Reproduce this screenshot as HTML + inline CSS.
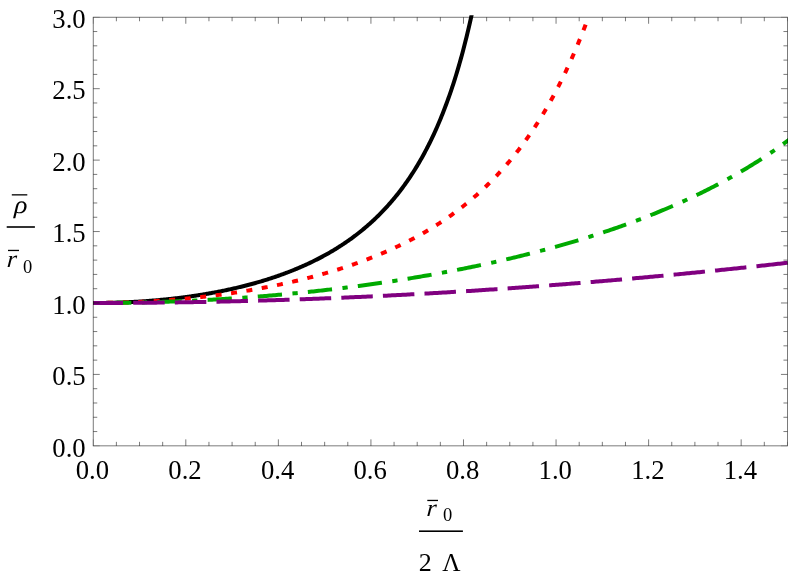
<!DOCTYPE html>
<html><head><meta charset="utf-8"><title>plot</title>
<style>
html,body{margin:0;padding:0;background:#fff;}
svg{display:block;will-change:transform;}
text{font-family:"Liberation Serif",serif;font-size:26.7px;fill:#000;}
.it{font-style:italic;}
</style></head><body>
<svg width="789" height="574" viewBox="0 0 789 574">
<rect width="789" height="574" fill="#fff"/>
<defs><clipPath id="c"><rect x="91.3" y="15.3" width="696.7" height="432"/></clipPath></defs>
<g clip-path="url(#c)" fill="none" stroke-width="4" stroke-linejoin="round">
<path d="M93.25 302.98 L94.20 302.98 L95.16 302.98 L96.11 302.98 L97.07 302.97 L98.02 302.97 L98.98 302.96 L99.93 302.95 L100.89 302.94 L101.84 302.93 L102.80 302.92 L103.75 302.91 L104.70 302.90 L105.66 302.88 L106.61 302.86 L107.57 302.85 L108.52 302.83 L109.48 302.81 L110.43 302.79 L111.39 302.76 L112.34 302.74 L113.30 302.71 L114.25 302.69 L115.20 302.66 L116.16 302.63 L117.11 302.60 L118.07 302.57 L119.02 302.54 L119.98 302.51 L120.93 302.47 L121.89 302.43 L122.84 302.40 L123.79 302.36 L124.75 302.32 L125.70 302.28 L126.66 302.23 L127.61 302.19 L128.57 302.15 L129.52 302.10 L130.48 302.05 L131.43 302.00 L132.39 301.95 L133.34 301.90 L134.29 301.85 L135.25 301.80 L136.20 301.74 L137.16 301.69 L138.11 301.63 L139.07 301.57 L140.02 301.51 L140.98 301.45 L141.93 301.38 L142.89 301.32 L143.84 301.26 L144.79 301.19 L145.75 301.12 L146.70 301.05 L147.66 300.98 L148.61 300.91 L149.57 300.84 L150.52 300.76 L151.48 300.69 L152.43 300.61 L153.39 300.53 L154.34 300.45 L155.29 300.37 L156.25 300.29 L157.20 300.20 L158.16 300.12 L159.11 300.03 L160.07 299.94 L161.02 299.85 L161.98 299.76 L162.93 299.67 L163.88 299.58 L164.84 299.48 L165.79 299.38 L166.75 299.29 L167.70 299.19 L168.66 299.09 L169.61 298.98 L170.57 298.88 L171.52 298.78 L172.48 298.67 L173.43 298.56 L174.38 298.45 L175.34 298.34 L176.29 298.23 L177.25 298.12 L178.20 298.00 L179.16 297.88 L180.11 297.77 L181.07 297.65 L182.02 297.53 L182.98 297.40 L183.93 297.28 L184.88 297.15 L185.84 297.03 L186.79 296.90 L187.75 296.77 L188.70 296.64 L189.66 296.50 L190.61 296.37 L191.57 296.23 L192.52 296.09 L193.48 295.95 L194.43 295.81 L195.38 295.67 L196.34 295.52 L197.29 295.38 L198.25 295.23 L199.20 295.08 L200.16 294.93 L201.11 294.78 L202.07 294.62 L203.02 294.47 L203.97 294.31 L204.93 294.15 L205.88 293.99 L206.84 293.83 L207.79 293.66 L208.75 293.49 L209.70 293.33 L210.66 293.16 L211.61 292.98 L212.57 292.81 L213.52 292.64 L214.47 292.46 L215.43 292.28 L216.38 292.10 L217.34 291.92 L218.29 291.73 L219.25 291.55 L220.20 291.36 L221.16 291.17 L222.11 290.98 L223.07 290.78 L224.02 290.59 L224.97 290.39 L225.93 290.19 L226.88 289.99 L227.84 289.78 L228.79 289.58 L229.75 289.37 L230.70 289.16 L231.66 288.95 L232.61 288.74 L233.57 288.52 L234.52 288.30 L235.47 288.08 L236.43 287.86 L237.38 287.64 L238.34 287.41 L239.29 287.18 L240.25 286.95 L241.20 286.72 L242.16 286.49 L243.11 286.25 L244.06 286.01 L245.02 285.77 L245.97 285.52 L246.93 285.28 L247.88 285.03 L248.84 284.78 L249.79 284.53 L250.75 284.27 L251.70 284.01 L252.66 283.75 L253.61 283.49 L254.56 283.23 L255.52 282.96 L256.47 282.69 L257.43 282.42 L258.38 282.14 L259.34 281.86 L260.29 281.58 L261.25 281.30 L262.20 281.02 L263.16 280.73 L264.11 280.44 L265.06 280.14 L266.02 279.85 L266.97 279.55 L267.93 279.25 L268.88 278.95 L269.84 278.64 L270.79 278.33 L271.75 278.02 L272.70 277.70 L273.66 277.38 L274.61 277.06 L275.56 276.74 L276.52 276.41 L277.47 276.08 L278.43 275.75 L279.38 275.41 L280.34 275.08 L281.29 274.73 L282.25 274.39 L283.20 274.04 L284.15 273.69 L285.11 273.33 L286.06 272.98 L287.02 272.62 L287.97 272.25 L288.93 271.88 L289.88 271.51 L290.84 271.14 L291.79 270.76 L292.75 270.38 L293.70 269.99 L294.65 269.60 L295.61 269.21 L296.56 268.82 L297.52 268.42 L298.47 268.01 L299.43 267.61 L300.38 267.20 L301.34 266.78 L302.29 266.36 L303.25 265.94 L304.20 265.52 L305.15 265.09 L306.11 264.65 L307.06 264.21 L308.02 263.77 L308.97 263.33 L309.93 262.88 L310.88 262.42 L311.84 261.96 L312.79 261.50 L313.75 261.03 L314.70 260.56 L315.65 260.08 L316.61 259.60 L317.56 259.12 L318.52 258.62 L319.47 258.13 L320.43 257.63 L321.38 257.13 L322.34 256.62 L323.29 256.10 L324.25 255.58 L325.20 255.06 L326.15 254.53 L327.11 253.99 L328.06 253.46 L329.02 252.91 L329.97 252.36 L330.93 251.80 L331.88 251.24 L332.84 250.68 L333.79 250.10 L334.74 249.53 L335.70 248.94 L336.65 248.35 L337.61 247.76 L338.56 247.16 L339.52 246.55 L340.47 245.94 L341.43 245.32 L342.38 244.69 L343.34 244.06 L344.29 243.42 L345.24 242.78 L346.20 242.12 L347.15 241.47 L348.11 240.80 L349.06 240.13 L350.02 239.45 L350.97 238.76 L351.93 238.07 L352.88 237.37 L353.84 236.66 L354.79 235.95 L355.74 235.22 L356.70 234.49 L357.65 233.76 L358.61 233.01 L359.56 232.26 L360.52 231.49 L361.47 230.72 L362.43 229.95 L363.38 229.16 L364.34 228.36 L365.29 227.56 L366.24 226.75 L367.20 225.92 L368.15 225.09 L369.11 224.25 L370.06 223.40 L371.02 222.54 L371.97 221.67 L372.93 220.79 L373.88 219.91 L374.83 219.01 L375.79 218.10 L376.74 217.18 L377.70 216.25 L378.65 215.31 L379.61 214.36 L380.56 213.39 L381.52 212.42 L382.47 211.43 L383.43 210.43 L384.38 209.43 L385.33 208.40 L386.29 207.37 L387.24 206.32 L388.20 205.27 L389.15 204.19 L390.11 203.11 L391.06 202.01 L392.02 200.90 L392.97 199.78 L393.93 198.64 L394.88 197.48 L395.83 196.31 L396.79 195.13 L397.74 193.93 L398.70 192.72 L399.65 191.49 L400.61 190.25 L401.56 188.99 L402.52 187.71 L403.47 186.41 L404.43 185.10 L405.38 183.77 L406.33 182.43 L407.29 181.06 L408.24 179.68 L409.20 178.28 L410.15 176.86 L411.11 175.42 L412.06 173.96 L413.02 172.48 L413.97 170.97 L414.92 169.45 L415.88 167.91 L416.83 166.34 L417.79 164.75 L418.74 163.14 L419.70 161.51 L420.65 159.85 L421.61 158.17 L422.56 156.46 L423.52 154.72 L424.47 152.97 L425.42 151.18 L426.38 149.37 L427.33 147.53 L428.29 145.66 L429.24 143.76 L430.20 141.83 L431.15 139.87 L432.11 137.88 L433.06 135.86 L434.02 133.81 L434.97 131.72 L435.92 129.60 L436.88 127.44 L437.83 125.25 L438.79 123.02 L439.74 120.76 L440.70 118.46 L441.65 116.11 L442.61 113.73 L443.56 111.30 L444.52 108.84 L445.47 106.32 L446.42 103.77 L447.38 101.17 L448.33 98.52 L449.29 95.82 L450.24 93.08 L451.20 90.28 L452.15 87.43 L453.11 84.52 L454.06 81.57 L455.01 78.55 L455.97 75.48 L456.92 72.34 L457.88 69.14 L458.83 65.88 L459.79 62.56 L460.74 59.16 L461.70 55.70 L462.65 52.17 L463.61 48.56 L464.56 44.87 L465.51 41.11 L466.47 37.26 L467.42 33.33 L468.38 29.32 L469.33 25.21 L470.29 21.01 L471.24 16.72 L472.20 12.32 L473.15 7.83 L474.11 3.23 L475.06 -1.48" stroke="#000"/>
<path d="M93.25 302.98 L94.48 302.98 L95.72 302.98 L96.95 302.98 L98.19 302.97 L99.42 302.96 L100.65 302.96 L101.89 302.95 L103.12 302.93 L104.36 302.92 L105.59 302.91 L106.82 302.89 L108.06 302.87 L109.29 302.85 L110.53 302.83 L111.76 302.81 L112.99 302.79 L114.23 302.76 L115.46 302.74 L116.69 302.71 L117.93 302.68 L119.16 302.65 L120.40 302.62 L121.63 302.58 L122.86 302.55 L124.10 302.51 L125.33 302.47 L126.57 302.43 L127.80 302.39 L129.03 302.34 L130.27 302.30 L131.50 302.25 L132.74 302.20 L133.97 302.15 L135.20 302.10 L136.44 302.05 L137.67 302.00 L138.91 301.94 L140.14 301.88 L141.37 301.82 L142.61 301.76 L143.84 301.70 L145.08 301.64 L146.31 301.57 L147.54 301.51 L148.78 301.44 L150.01 301.37 L151.25 301.30 L152.48 301.22 L153.71 301.15 L154.95 301.07 L156.18 301.00 L157.41 300.92 L158.65 300.84 L159.88 300.75 L161.12 300.67 L162.35 300.58 L163.58 300.50 L164.82 300.41 L166.05 300.32 L167.29 300.23 L168.52 300.13 L169.75 300.04 L170.99 299.94 L172.22 299.84 L173.46 299.74 L174.69 299.64 L175.92 299.54 L177.16 299.43 L178.39 299.33 L179.63 299.22 L180.86 299.11 L182.09 299.00 L183.33 298.89 L184.56 298.77 L185.80 298.66 L187.03 298.54 L188.26 298.42 L189.50 298.30 L190.73 298.17 L191.97 298.05 L193.20 297.92 L194.43 297.80 L195.67 297.67 L196.90 297.54 L198.13 297.40 L199.37 297.27 L200.60 297.13 L201.84 296.99 L203.07 296.85 L204.30 296.71 L205.54 296.57 L206.77 296.43 L208.01 296.28 L209.24 296.13 L210.47 295.98 L211.71 295.83 L212.94 295.68 L214.18 295.52 L215.41 295.36 L216.64 295.21 L217.88 295.04 L219.11 294.88 L220.35 294.72 L221.58 294.55 L222.81 294.39 L224.05 294.22 L225.28 294.04 L226.52 293.87 L227.75 293.70 L228.98 293.52 L230.22 293.34 L231.45 293.16 L232.69 292.98 L233.92 292.80 L235.15 292.61 L236.39 292.42 L237.62 292.23 L238.85 292.04 L240.09 291.85 L241.32 291.65 L242.56 291.45 L243.79 291.26 L245.02 291.05 L246.26 290.85 L247.49 290.65 L248.73 290.44 L249.96 290.23 L251.19 290.02 L252.43 289.81 L253.66 289.59 L254.90 289.38 L256.13 289.16 L257.36 288.94 L258.60 288.71 L259.83 288.49 L261.07 288.26 L262.30 288.03 L263.53 287.80 L264.77 287.57 L266.00 287.33 L267.24 287.10 L268.47 286.86 L269.70 286.61 L270.94 286.37 L272.17 286.13 L273.41 285.88 L274.64 285.63 L275.87 285.37 L277.11 285.12 L278.34 284.86 L279.58 284.60 L280.81 284.34 L282.04 284.08 L283.28 283.81 L284.51 283.54 L285.74 283.27 L286.98 283.00 L288.21 282.73 L289.45 282.45 L290.68 282.17 L291.91 281.89 L293.15 281.60 L294.38 281.32 L295.62 281.03 L296.85 280.73 L298.08 280.44 L299.32 280.14 L300.55 279.84 L301.79 279.54 L303.02 279.24 L304.25 278.93 L305.49 278.62 L306.72 278.31 L307.96 277.99 L309.19 277.68 L310.42 277.36 L311.66 277.03 L312.89 276.71 L314.13 276.38 L315.36 276.05 L316.59 275.72 L317.83 275.38 L319.06 275.04 L320.30 274.70 L321.53 274.36 L322.76 274.01 L324.00 273.66 L325.23 273.30 L326.46 272.95 L327.70 272.59 L328.93 272.23 L330.17 271.86 L331.40 271.49 L332.63 271.12 L333.87 270.75 L335.10 270.37 L336.34 269.99 L337.57 269.61 L338.80 269.22 L340.04 268.83 L341.27 268.44 L342.51 268.04 L343.74 267.64 L344.97 267.24 L346.21 266.83 L347.44 266.42 L348.68 266.01 L349.91 265.59 L351.14 265.17 L352.38 264.74 L353.61 264.32 L354.85 263.89 L356.08 263.45 L357.31 263.01 L358.55 262.57 L359.78 262.12 L361.02 261.67 L362.25 261.22 L363.48 260.76 L364.72 260.30 L365.95 259.84 L367.18 259.37 L368.42 258.89 L369.65 258.42 L370.89 257.94 L372.12 257.45 L373.35 256.96 L374.59 256.47 L375.82 255.97 L377.06 255.47 L378.29 254.96 L379.52 254.45 L380.76 253.93 L381.99 253.41 L383.23 252.89 L384.46 252.36 L385.69 251.83 L386.93 251.29 L388.16 250.74 L389.40 250.20 L390.63 249.64 L391.86 249.09 L393.10 248.52 L394.33 247.96 L395.57 247.38 L396.80 246.81 L398.03 246.22 L399.27 245.63 L400.50 245.04 L401.74 244.44 L402.97 243.84 L404.20 243.23 L405.44 242.61 L406.67 241.99 L407.90 241.36 L409.14 240.73 L410.37 240.09 L411.61 239.45 L412.84 238.80 L414.07 238.14 L415.31 237.48 L416.54 236.81 L417.78 236.14 L419.01 235.46 L420.24 234.77 L421.48 234.08 L422.71 233.38 L423.95 232.67 L425.18 231.96 L426.41 231.24 L427.65 230.51 L428.88 229.77 L430.12 229.03 L431.35 228.29 L432.58 227.53 L433.82 226.77 L435.05 226.00 L436.29 225.22 L437.52 224.43 L438.75 223.64 L439.99 222.84 L441.22 222.03 L442.46 221.21 L443.69 220.39 L444.92 219.56 L446.16 218.72 L447.39 217.87 L448.62 217.01 L449.86 216.14 L451.09 215.27 L452.33 214.38 L453.56 213.49 L454.79 212.59 L456.03 211.68 L457.26 210.75 L458.50 209.82 L459.73 208.88 L460.96 207.93 L462.20 206.98 L463.43 206.01 L464.67 205.03 L465.90 204.04 L467.13 203.04 L468.37 202.03 L469.60 201.00 L470.84 199.97 L472.07 198.93 L473.30 197.88 L474.54 196.81 L475.77 195.73 L477.01 194.65 L478.24 193.55 L479.47 192.43 L480.71 191.31 L481.94 190.17 L483.18 189.02 L484.41 187.86 L485.64 186.69 L486.88 185.50 L488.11 184.30 L489.34 183.09 L490.58 181.86 L491.81 180.62 L493.05 179.37 L494.28 178.10 L495.51 176.82 L496.75 175.52 L497.98 174.21 L499.22 172.88 L500.45 171.54 L501.68 170.18 L502.92 168.81 L504.15 167.42 L505.39 166.01 L506.62 164.59 L507.85 163.15 L509.09 161.70 L510.32 160.23 L511.56 158.74 L512.79 157.23 L514.02 155.71 L515.26 154.17 L516.49 152.60 L517.73 151.03 L518.96 149.43 L520.19 147.81 L521.43 146.17 L522.66 144.52 L523.90 142.84 L525.13 141.14 L526.36 139.42 L527.60 137.69 L528.83 135.93 L530.06 134.14 L531.30 132.34 L532.53 130.51 L533.77 128.66 L535.00 126.79 L536.23 124.90 L537.47 122.98 L538.70 121.03 L539.94 119.07 L541.17 117.07 L542.40 115.05 L543.64 113.01 L544.87 110.94 L546.11 108.84 L547.34 106.72 L548.57 104.57 L549.81 102.39 L551.04 100.18 L552.28 97.94 L553.51 95.68 L554.74 93.38 L555.98 91.05 L557.21 88.70 L558.45 86.31 L559.68 83.89 L560.91 81.44 L562.15 78.95 L563.38 76.43 L564.62 73.88 L565.85 71.29 L567.08 68.67 L568.32 66.01 L569.55 63.32 L570.78 60.59 L572.02 57.82 L573.25 55.01 L574.49 52.17 L575.72 49.28 L576.95 46.36 L578.19 43.39 L579.42 40.38 L580.66 37.33 L581.89 34.24 L583.12 31.10 L584.36 27.92 L585.59 24.69 L586.83 21.42" stroke="#ff0000" stroke-dasharray="6 9.55" stroke-dashoffset="1.7"/>
<path d="M93.25 302.98 L95.00 302.98 L96.74 302.98 L98.49 302.98 L100.24 302.97 L101.99 302.97 L103.73 302.96 L105.48 302.95 L107.23 302.94 L108.97 302.93 L110.72 302.91 L112.47 302.90 L114.21 302.88 L115.96 302.86 L117.71 302.84 L119.46 302.82 L121.20 302.80 L122.95 302.78 L124.70 302.75 L126.44 302.73 L128.19 302.70 L129.94 302.67 L131.69 302.64 L133.43 302.61 L135.18 302.57 L136.93 302.54 L138.67 302.50 L140.42 302.46 L142.17 302.42 L143.92 302.38 L145.66 302.34 L147.41 302.30 L149.16 302.25 L150.90 302.20 L152.65 302.16 L154.40 302.11 L156.14 302.06 L157.89 302.00 L159.64 301.95 L161.39 301.89 L163.13 301.84 L164.88 301.78 L166.63 301.72 L168.37 301.66 L170.12 301.60 L171.87 301.53 L173.62 301.47 L175.36 301.40 L177.11 301.33 L178.86 301.26 L180.60 301.19 L182.35 301.12 L184.10 301.05 L185.84 300.97 L187.59 300.89 L189.34 300.81 L191.09 300.73 L192.83 300.65 L194.58 300.57 L196.33 300.49 L198.07 300.40 L199.82 300.31 L201.57 300.22 L203.32 300.13 L205.06 300.04 L206.81 299.95 L208.56 299.85 L210.30 299.76 L212.05 299.66 L213.80 299.56 L215.54 299.46 L217.29 299.36 L219.04 299.25 L220.79 299.15 L222.53 299.04 L224.28 298.93 L226.03 298.83 L227.77 298.71 L229.52 298.60 L231.27 298.49 L233.02 298.37 L234.76 298.26 L236.51 298.14 L238.26 298.02 L240.00 297.89 L241.75 297.77 L243.50 297.65 L245.25 297.52 L246.99 297.39 L248.74 297.26 L250.49 297.13 L252.23 297.00 L253.98 296.87 L255.73 296.73 L257.47 296.60 L259.22 296.46 L260.97 296.32 L262.72 296.18 L264.46 296.03 L266.21 295.89 L267.96 295.74 L269.70 295.59 L271.45 295.45 L273.20 295.29 L274.95 295.14 L276.69 294.99 L278.44 294.83 L280.19 294.68 L281.93 294.52 L283.68 294.36 L285.43 294.20 L287.17 294.03 L288.92 293.87 L290.67 293.70 L292.42 293.53 L294.16 293.36 L295.91 293.19 L297.66 293.02 L299.40 292.84 L301.15 292.67 L302.90 292.49 L304.65 292.31 L306.39 292.13 L308.14 291.95 L309.89 291.76 L311.63 291.58 L313.38 291.39 L315.13 291.20 L316.87 291.01 L318.62 290.82 L320.37 290.62 L322.12 290.43 L323.86 290.23 L325.61 290.03 L327.36 289.83 L329.10 289.63 L330.85 289.42 L332.60 289.22 L334.35 289.01 L336.09 288.80 L337.84 288.59 L339.59 288.38 L341.33 288.17 L343.08 287.95 L344.83 287.73 L346.58 287.51 L348.32 287.29 L350.07 287.07 L351.82 286.84 L353.56 286.62 L355.31 286.39 L357.06 286.16 L358.80 285.93 L360.55 285.70 L362.30 285.46 L364.05 285.22 L365.79 284.99 L367.54 284.75 L369.29 284.50 L371.03 284.26 L372.78 284.01 L374.53 283.77 L376.28 283.52 L378.02 283.27 L379.77 283.01 L381.52 282.76 L383.26 282.50 L385.01 282.25 L386.76 281.99 L388.50 281.72 L390.25 281.46 L392.00 281.19 L393.75 280.93 L395.49 280.66 L397.24 280.39 L398.99 280.11 L400.73 279.84 L402.48 279.56 L404.23 279.28 L405.98 279.00 L407.72 278.72 L409.47 278.43 L411.22 278.15 L412.96 277.86 L414.71 277.57 L416.46 277.28 L418.21 276.98 L419.95 276.68 L421.70 276.39 L423.45 276.09 L425.19 275.78 L426.94 275.48 L428.69 275.17 L430.43 274.87 L432.18 274.55 L433.93 274.24 L435.68 273.93 L437.42 273.61 L439.17 273.29 L440.92 272.97 L442.66 272.65 L444.41 272.32 L446.16 272.00 L447.91 271.67 L449.65 271.34 L451.40 271.00 L453.15 270.67 L454.89 270.33 L456.64 269.99 L458.39 269.65 L460.13 269.30 L461.88 268.96 L463.63 268.61 L465.38 268.26 L467.12 267.91 L468.87 267.55 L470.62 267.19 L472.36 266.83 L474.11 266.47 L475.86 266.11 L477.61 265.74 L479.35 265.37 L481.10 265.00 L482.85 264.63 L484.59 264.25 L486.34 263.87 L488.09 263.49 L489.83 263.11 L491.58 262.72 L493.33 262.34 L495.08 261.95 L496.82 261.55 L498.57 261.16 L500.32 260.76 L502.06 260.36 L503.81 259.96 L505.56 259.55 L507.31 259.15 L509.05 258.74 L510.80 258.32 L512.55 257.91 L514.29 257.49 L516.04 257.07 L517.79 256.65 L519.54 256.22 L521.28 255.79 L523.03 255.36 L524.78 254.93 L526.52 254.49 L528.27 254.05 L530.02 253.61 L531.76 253.16 L533.51 252.72 L535.26 252.27 L537.01 251.81 L538.75 251.36 L540.50 250.90 L542.25 250.44 L543.99 249.97 L545.74 249.51 L547.49 249.04 L549.24 248.56 L550.98 248.09 L552.73 247.61 L554.48 247.12 L556.22 246.64 L557.97 246.15 L559.72 245.66 L561.46 245.16 L563.21 244.67 L564.96 244.17 L566.71 243.66 L568.45 243.16 L570.20 242.64 L571.95 242.13 L573.69 241.61 L575.44 241.09 L577.19 240.57 L578.94 240.04 L580.68 239.51 L582.43 238.98 L584.18 238.44 L585.92 237.90 L587.67 237.36 L589.42 236.81 L591.16 236.26 L592.91 235.71 L594.66 235.15 L596.41 234.59 L598.15 234.02 L599.90 233.45 L601.65 232.88 L603.39 232.30 L605.14 231.72 L606.89 231.14 L608.64 230.55 L610.38 229.96 L612.13 229.36 L613.88 228.76 L615.62 228.16 L617.37 227.55 L619.12 226.94 L620.87 226.32 L622.61 225.70 L624.36 225.08 L626.11 224.45 L627.85 223.82 L629.60 223.18 L631.35 222.54 L633.09 221.90 L634.84 221.25 L636.59 220.59 L638.34 219.93 L640.08 219.27 L641.83 218.60 L643.58 217.93 L645.32 217.25 L647.07 216.57 L648.82 215.89 L650.57 215.19 L652.31 214.50 L654.06 213.80 L655.81 213.09 L657.55 212.38 L659.30 211.67 L661.05 210.94 L662.79 210.22 L664.54 209.49 L666.29 208.75 L668.04 208.01 L669.78 207.26 L671.53 206.51 L673.28 205.75 L675.02 204.99 L676.77 204.22 L678.52 203.45 L680.27 202.67 L682.01 201.88 L683.76 201.09 L685.51 200.29 L687.25 199.49 L689.00 198.68 L690.75 197.87 L692.50 197.04 L694.24 196.22 L695.99 195.38 L697.74 194.54 L699.48 193.70 L701.23 192.84 L702.98 191.99 L704.72 191.12 L706.47 190.25 L708.22 189.37 L709.97 188.48 L711.71 187.59 L713.46 186.69 L715.21 185.78 L716.95 184.87 L718.70 183.95 L720.45 183.02 L722.20 182.09 L723.94 181.14 L725.69 180.19 L727.44 179.23 L729.18 178.27 L730.93 177.29 L732.68 176.31 L734.42 175.32 L736.17 174.33 L737.92 173.32 L739.67 172.31 L741.41 171.29 L743.16 170.25 L744.91 169.22 L746.65 168.17 L748.40 167.11 L750.15 166.05 L751.90 164.97 L753.64 163.89 L755.39 162.80 L757.14 161.69 L758.88 160.58 L760.63 159.46 L762.38 158.33 L764.12 157.19 L765.87 156.04 L767.62 154.88 L769.37 153.71 L771.11 152.53 L772.86 151.34 L774.61 150.14 L776.35 148.93 L778.10 147.70 L779.85 146.47 L781.60 145.23 L783.34 143.97 L785.09 142.70 L786.84 141.42 L788.58 140.13 L790.33 138.83 L792.08 137.52" stroke="#00aa00" stroke-dasharray="5.3 10.2 24.3 10.5" stroke-dashoffset="1.7"/>
<path d="M93.25 302.98 L95.00 302.98 L96.74 302.98 L98.49 302.98 L100.24 302.98 L101.99 302.98 L103.73 302.97 L105.48 302.97 L107.23 302.97 L108.97 302.96 L110.72 302.96 L112.47 302.95 L114.21 302.95 L115.96 302.94 L117.71 302.93 L119.46 302.92 L121.20 302.92 L122.95 302.91 L124.70 302.90 L126.44 302.89 L128.19 302.88 L129.94 302.87 L131.69 302.86 L133.43 302.84 L135.18 302.83 L136.93 302.82 L138.67 302.81 L140.42 302.79 L142.17 302.78 L143.92 302.76 L145.66 302.75 L147.41 302.73 L149.16 302.72 L150.90 302.70 L152.65 302.68 L154.40 302.66 L156.14 302.64 L157.89 302.62 L159.64 302.61 L161.39 302.59 L163.13 302.56 L164.88 302.54 L166.63 302.52 L168.37 302.50 L170.12 302.48 L171.87 302.45 L173.62 302.43 L175.36 302.41 L177.11 302.38 L178.86 302.35 L180.60 302.33 L182.35 302.30 L184.10 302.28 L185.84 302.25 L187.59 302.22 L189.34 302.19 L191.09 302.16 L192.83 302.13 L194.58 302.10 L196.33 302.07 L198.07 302.04 L199.82 302.01 L201.57 301.98 L203.32 301.94 L205.06 301.91 L206.81 301.88 L208.56 301.84 L210.30 301.81 L212.05 301.77 L213.80 301.74 L215.54 301.70 L217.29 301.66 L219.04 301.63 L220.79 301.59 L222.53 301.55 L224.28 301.51 L226.03 301.47 L227.77 301.43 L229.52 301.39 L231.27 301.35 L233.02 301.31 L234.76 301.27 L236.51 301.22 L238.26 301.18 L240.00 301.14 L241.75 301.09 L243.50 301.05 L245.25 301.00 L246.99 300.96 L248.74 300.91 L250.49 300.87 L252.23 300.82 L253.98 300.77 L255.73 300.72 L257.47 300.67 L259.22 300.62 L260.97 300.57 L262.72 300.52 L264.46 300.47 L266.21 300.42 L267.96 300.37 L269.70 300.32 L271.45 300.26 L273.20 300.21 L274.95 300.16 L276.69 300.10 L278.44 300.05 L280.19 299.99 L281.93 299.94 L283.68 299.88 L285.43 299.82 L287.17 299.76 L288.92 299.71 L290.67 299.65 L292.42 299.59 L294.16 299.53 L295.91 299.47 L297.66 299.41 L299.40 299.35 L301.15 299.29 L302.90 299.22 L304.65 299.16 L306.39 299.10 L308.14 299.03 L309.89 298.97 L311.63 298.90 L313.38 298.84 L315.13 298.77 L316.87 298.71 L318.62 298.64 L320.37 298.57 L322.12 298.50 L323.86 298.44 L325.61 298.37 L327.36 298.30 L329.10 298.23 L330.85 298.16 L332.60 298.09 L334.35 298.01 L336.09 297.94 L337.84 297.87 L339.59 297.80 L341.33 297.72 L343.08 297.65 L344.83 297.58 L346.58 297.50 L348.32 297.42 L350.07 297.35 L351.82 297.27 L353.56 297.19 L355.31 297.12 L357.06 297.04 L358.80 296.96 L360.55 296.88 L362.30 296.80 L364.05 296.72 L365.79 296.64 L367.54 296.56 L369.29 296.48 L371.03 296.40 L372.78 296.31 L374.53 296.23 L376.28 296.15 L378.02 296.06 L379.77 295.98 L381.52 295.89 L383.26 295.81 L385.01 295.72 L386.76 295.63 L388.50 295.55 L390.25 295.46 L392.00 295.37 L393.75 295.28 L395.49 295.19 L397.24 295.10 L398.99 295.01 L400.73 294.92 L402.48 294.83 L404.23 294.74 L405.98 294.65 L407.72 294.55 L409.47 294.46 L411.22 294.37 L412.96 294.27 L414.71 294.18 L416.46 294.08 L418.21 293.98 L419.95 293.89 L421.70 293.79 L423.45 293.69 L425.19 293.60 L426.94 293.50 L428.69 293.40 L430.43 293.30 L432.18 293.20 L433.93 293.10 L435.68 293.00 L437.42 292.90 L439.17 292.80 L440.92 292.69 L442.66 292.59 L444.41 292.49 L446.16 292.38 L447.91 292.28 L449.65 292.17 L451.40 292.07 L453.15 291.96 L454.89 291.86 L456.64 291.75 L458.39 291.64 L460.13 291.53 L461.88 291.43 L463.63 291.32 L465.38 291.21 L467.12 291.10 L468.87 290.99 L470.62 290.88 L472.36 290.76 L474.11 290.65 L475.86 290.54 L477.61 290.43 L479.35 290.31 L481.10 290.20 L482.85 290.09 L484.59 289.97 L486.34 289.86 L488.09 289.74 L489.83 289.62 L491.58 289.51 L493.33 289.39 L495.08 289.27 L496.82 289.15 L498.57 289.04 L500.32 288.92 L502.06 288.80 L503.81 288.68 L505.56 288.56 L507.31 288.43 L509.05 288.31 L510.80 288.19 L512.55 288.07 L514.29 287.94 L516.04 287.82 L517.79 287.70 L519.54 287.57 L521.28 287.45 L523.03 287.32 L524.78 287.19 L526.52 287.07 L528.27 286.94 L530.02 286.81 L531.76 286.68 L533.51 286.56 L535.26 286.43 L537.01 286.30 L538.75 286.17 L540.50 286.04 L542.25 285.91 L543.99 285.77 L545.74 285.64 L547.49 285.51 L549.24 285.38 L550.98 285.24 L552.73 285.11 L554.48 284.98 L556.22 284.84 L557.97 284.71 L559.72 284.57 L561.46 284.43 L563.21 284.30 L564.96 284.16 L566.71 284.02 L568.45 283.88 L570.20 283.74 L571.95 283.60 L573.69 283.46 L575.44 283.32 L577.19 283.18 L578.94 283.04 L580.68 282.90 L582.43 282.76 L584.18 282.62 L585.92 282.47 L587.67 282.33 L589.42 282.19 L591.16 282.04 L592.91 281.90 L594.66 281.75 L596.41 281.60 L598.15 281.46 L599.90 281.31 L601.65 281.16 L603.39 281.02 L605.14 280.87 L606.89 280.72 L608.64 280.57 L610.38 280.42 L612.13 280.27 L613.88 280.12 L615.62 279.97 L617.37 279.81 L619.12 279.66 L620.87 279.51 L622.61 279.36 L624.36 279.20 L626.11 279.05 L627.85 278.89 L629.60 278.74 L631.35 278.58 L633.09 278.43 L634.84 278.27 L636.59 278.11 L638.34 277.96 L640.08 277.80 L641.83 277.64 L643.58 277.48 L645.32 277.32 L647.07 277.16 L648.82 277.00 L650.57 276.84 L652.31 276.68 L654.06 276.52 L655.81 276.36 L657.55 276.19 L659.30 276.03 L661.05 275.87 L662.79 275.70 L664.54 275.54 L666.29 275.37 L668.04 275.21 L669.78 275.04 L671.53 274.88 L673.28 274.71 L675.02 274.54 L676.77 274.38 L678.52 274.21 L680.27 274.04 L682.01 273.87 L683.76 273.70 L685.51 273.53 L687.25 273.36 L689.00 273.19 L690.75 273.02 L692.50 272.84 L694.24 272.67 L695.99 272.50 L697.74 272.33 L699.48 272.15 L701.23 271.98 L702.98 271.80 L704.72 271.63 L706.47 271.45 L708.22 271.28 L709.97 271.10 L711.71 270.92 L713.46 270.75 L715.21 270.57 L716.95 270.39 L718.70 270.21 L720.45 270.03 L722.20 269.85 L723.94 269.67 L725.69 269.49 L727.44 269.31 L729.18 269.13 L730.93 268.95 L732.68 268.76 L734.42 268.58 L736.17 268.40 L737.92 268.21 L739.67 268.03 L741.41 267.84 L743.16 267.66 L744.91 267.47 L746.65 267.29 L748.40 267.10 L750.15 266.91 L751.90 266.73 L753.64 266.54 L755.39 266.35 L757.14 266.16 L758.88 265.97 L760.63 265.78 L762.38 265.59 L764.12 265.40 L765.87 265.21 L767.62 265.02 L769.37 264.82 L771.11 264.63 L772.86 264.44 L774.61 264.25 L776.35 264.05 L778.10 263.86 L779.85 263.66 L781.60 263.47 L783.34 263.27 L785.09 263.08 L786.84 262.88 L788.58 262.68 L790.33 262.49 L792.08 262.29" stroke="#800080" stroke-dasharray="31.5 10.14" stroke-dashoffset="1.7"/>
</g>
<g fill="none" stroke="#000" stroke-opacity="0.6" stroke-width="0.87">
<rect x="93.25" y="17.25" width="694.20" height="428.60"/>
<path d="M116.39 445.85 v-4.00 M116.39 17.25 v4.00 M139.53 445.85 v-4.00 M139.53 17.25 v4.00 M162.67 445.85 v-4.00 M162.67 17.25 v4.00 M185.81 445.85 v-6.50 M185.81 17.25 v6.50 M208.95 445.85 v-4.00 M208.95 17.25 v4.00 M232.09 445.85 v-4.00 M232.09 17.25 v4.00 M255.23 445.85 v-4.00 M255.23 17.25 v4.00 M278.37 445.85 v-6.50 M278.37 17.25 v6.50 M301.51 445.85 v-4.00 M301.51 17.25 v4.00 M324.65 445.85 v-4.00 M324.65 17.25 v4.00 M347.79 445.85 v-4.00 M347.79 17.25 v4.00 M370.93 445.85 v-6.50 M370.93 17.25 v6.50 M394.07 445.85 v-4.00 M394.07 17.25 v4.00 M417.21 445.85 v-4.00 M417.21 17.25 v4.00 M440.35 445.85 v-4.00 M440.35 17.25 v4.00 M463.49 445.85 v-6.50 M463.49 17.25 v6.50 M486.63 445.85 v-4.00 M486.63 17.25 v4.00 M509.77 445.85 v-4.00 M509.77 17.25 v4.00 M532.91 445.85 v-4.00 M532.91 17.25 v4.00 M556.05 445.85 v-6.50 M556.05 17.25 v6.50 M579.19 445.85 v-4.00 M579.19 17.25 v4.00 M602.33 445.85 v-4.00 M602.33 17.25 v4.00 M625.47 445.85 v-4.00 M625.47 17.25 v4.00 M648.61 445.85 v-6.50 M648.61 17.25 v6.50 M671.75 445.85 v-4.00 M671.75 17.25 v4.00 M694.89 445.85 v-4.00 M694.89 17.25 v4.00 M718.03 445.85 v-4.00 M718.03 17.25 v4.00 M741.17 445.85 v-6.50 M741.17 17.25 v6.50 M764.31 445.85 v-4.00 M764.31 17.25 v4.00 M93.25 431.56 h4.00 M787.45 431.56 h-4.00 M93.25 417.28 h4.00 M787.45 417.28 h-4.00 M93.25 402.99 h4.00 M787.45 402.99 h-4.00 M93.25 388.70 h4.00 M787.45 388.70 h-4.00 M93.25 374.42 h6.50 M787.45 374.42 h-6.50 M93.25 360.13 h4.00 M787.45 360.13 h-4.00 M93.25 345.84 h4.00 M787.45 345.84 h-4.00 M93.25 331.56 h4.00 M787.45 331.56 h-4.00 M93.25 317.27 h4.00 M787.45 317.27 h-4.00 M93.25 302.98 h6.50 M787.45 302.98 h-6.50 M93.25 288.70 h4.00 M787.45 288.70 h-4.00 M93.25 274.41 h4.00 M787.45 274.41 h-4.00 M93.25 260.12 h4.00 M787.45 260.12 h-4.00 M93.25 245.84 h4.00 M787.45 245.84 h-4.00 M93.25 231.55 h6.50 M787.45 231.55 h-6.50 M93.25 217.26 h4.00 M787.45 217.26 h-4.00 M93.25 202.98 h4.00 M787.45 202.98 h-4.00 M93.25 188.69 h4.00 M787.45 188.69 h-4.00 M93.25 174.40 h4.00 M787.45 174.40 h-4.00 M93.25 160.12 h6.50 M787.45 160.12 h-6.50 M93.25 145.83 h4.00 M787.45 145.83 h-4.00 M93.25 131.54 h4.00 M787.45 131.54 h-4.00 M93.25 117.26 h4.00 M787.45 117.26 h-4.00 M93.25 102.97 h4.00 M787.45 102.97 h-4.00 M93.25 88.68 h6.50 M787.45 88.68 h-6.50 M93.25 74.40 h4.00 M787.45 74.40 h-4.00 M93.25 60.11 h4.00 M787.45 60.11 h-4.00 M93.25 45.82 h4.00 M787.45 45.82 h-4.00 M93.25 31.54 h4.00 M787.45 31.54 h-4.00"/>
<path d="M93.25 445.85 v-6.50 M93.25 17.25 v6.50 M787.45 445.85 v-4.00 M787.45 17.25 v4.00 M93.25 445.85 h6.50 M787.45 445.85 h-6.50 M93.25 17.25 h6.50 M787.45 17.25 h-6.50" stroke-opacity="0.25"/>
</g>
<g>
<text x="92.45" y="478.5" text-anchor="middle">0.0</text>
<text x="185.01" y="478.5" text-anchor="middle">0.2</text>
<text x="277.57" y="478.5" text-anchor="middle">0.4</text>
<text x="370.13" y="478.5" text-anchor="middle">0.6</text>
<text x="462.69" y="478.5" text-anchor="middle">0.8</text>
<text x="555.25" y="478.5" text-anchor="middle">1.0</text>
<text x="647.81" y="478.5" text-anchor="middle">1.2</text>
<text x="740.37" y="478.5" text-anchor="middle">1.4</text>
<text x="85.7" y="456.55" text-anchor="end">0.0</text>
<text x="85.7" y="385.12" text-anchor="end">0.5</text>
<text x="85.7" y="313.68" text-anchor="end">1.0</text>
<text x="85.7" y="242.25" text-anchor="end">1.5</text>
<text x="85.7" y="170.82" text-anchor="end">2.0</text>
<text x="85.7" y="99.38" text-anchor="end">2.5</text>
<text x="85.7" y="27.95" text-anchor="end">3.0</text>
</g>
<!-- y axis label -->
<g>
<text class="it" transform="translate(14.1,212.7) scale(1.1,1) skewX(-2)" style="font-size:25px">ρ</text>
<rect x="11.8" y="194.2" width="15.5" height="1.3" fill="#000"/>
<rect x="6.7" y="226.2" width="28.2" height="1.6" fill="#000"/>
<text class="it" transform="translate(6.4,267.4) scale(1.05,1) skewX(-4)" style="font-size:24.2px">r</text>
<rect x="8" y="249.8" width="11" height="1.3" fill="#000"/>
<text x="23.1" y="272.7" style="font-size:18.5px">0</text>
</g>
<!-- x axis label -->
<g>
<text class="it" transform="translate(426.2,516.2) scale(1.05,1) skewX(-4)" style="font-size:24.2px">r</text>
<rect x="427.3" y="499.8" width="10.7" height="1.3" fill="#000"/>
<text x="443" y="521.3" style="font-size:18.5px">0</text>
<rect x="419" y="530.4" width="43.9" height="1.6" fill="#000"/>
<text x="418.7" y="571.4" style="font-size:26px">2</text>
<text transform="translate(442.3,571.4) scale(0.97,1)" style="font-size:26px">Λ</text>
</g>
</svg>
</body></html>
